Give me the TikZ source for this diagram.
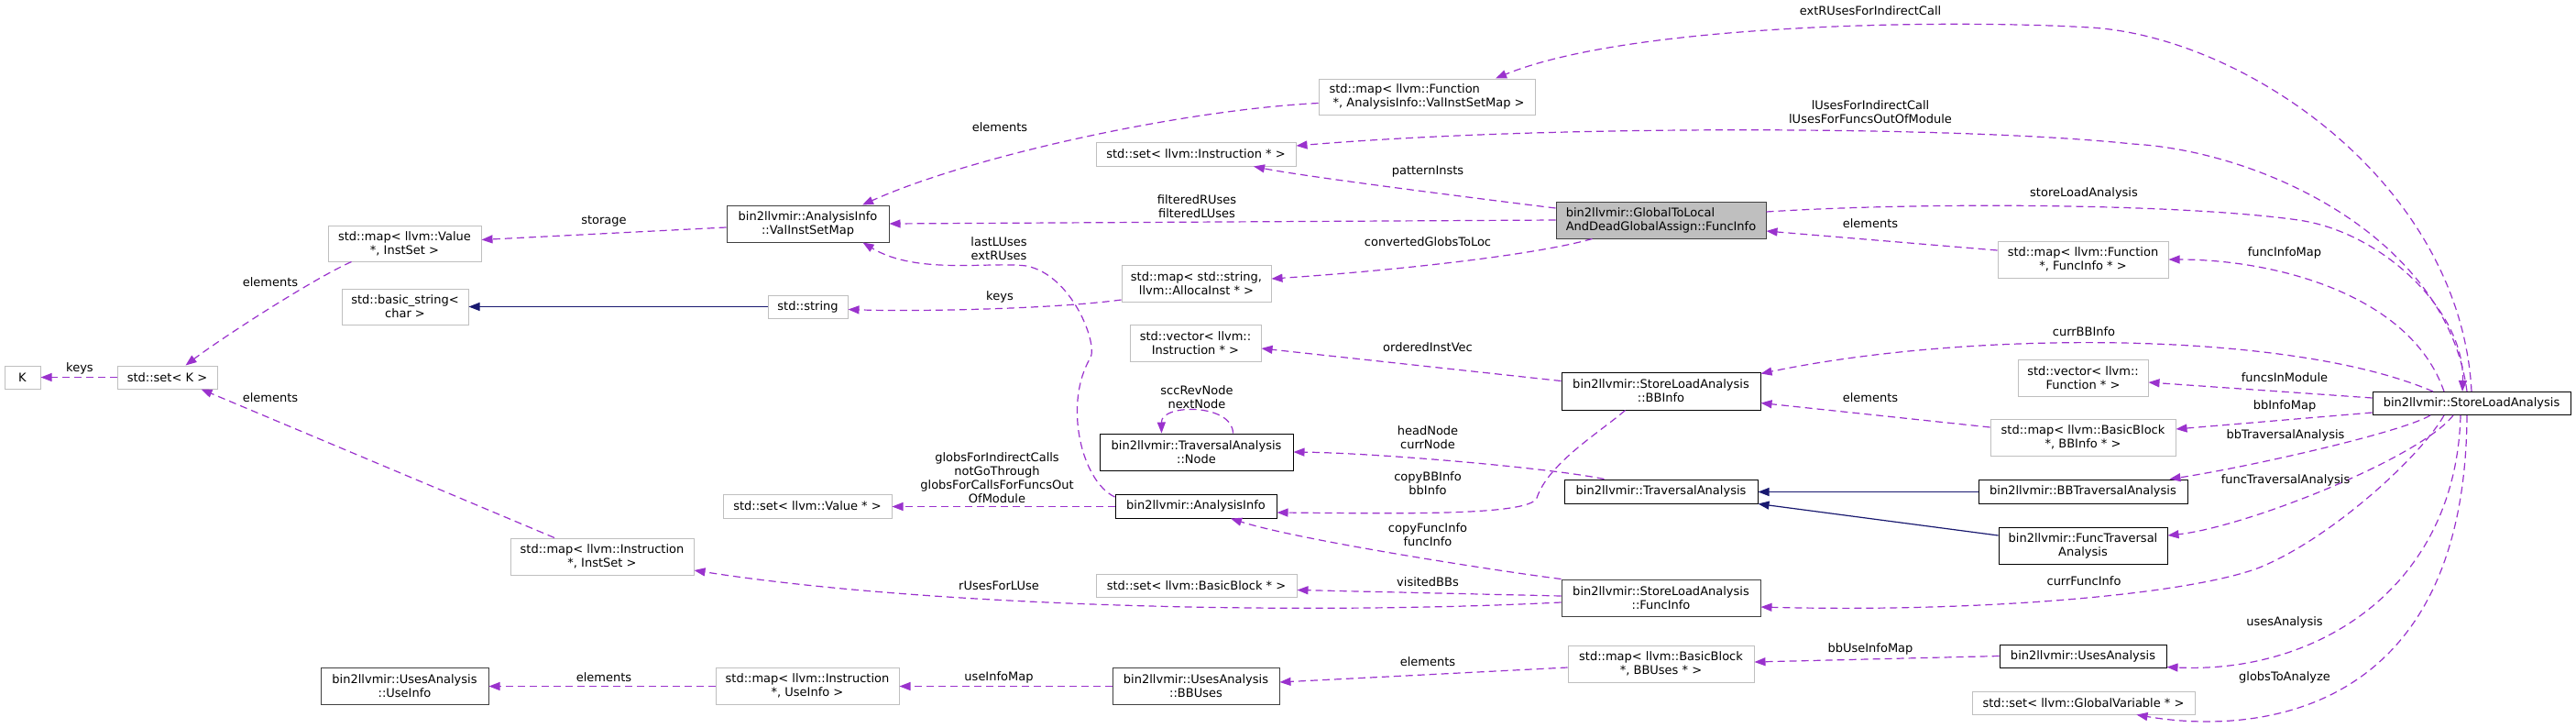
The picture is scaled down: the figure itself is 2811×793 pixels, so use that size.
\documentclass[tikz,border=0pt]{standalone}
\usepackage{fontspec}
\setmainfont{DejaVu Sans}
\usetikzlibrary{arrows.meta,calc}
\newcommand\dxf{\fontsize{13}{15}\selectfont}
\definecolor{usec}{HTML}{9A32CD}
\definecolor{inhc}{HTML}{191970}
\definecolor{extc}{HTML}{BFBFBF}
\definecolor{dkc}{HTML}{404040}
\begin{document}
\begin{tikzpicture}[x=1pt,y=-1pt,
  every node/.style={font=\dxf},
  sz/.style 2 args={minimum width=#1pt,minimum height=#2pt},
  box/.style={draw,rectangle,line width=1pt,inner sep=1pt,align=center,fill=white},
  cls/.style={box,draw=black},
  ext/.style={box,draw=extc},
  dk/.style={box,draw=dkc},
  rootc/.style={box,draw=dkc,fill=extc,align=left},
  lbl/.style={align=center,inner sep=0pt},
  use/.style={draw=usec,line width=1.2pt,dash pattern=on 8pt off 5pt,-{Triangle[length=12pt,width=9pt]}},
  inh/.style={draw=inhc,line width=1.2pt,-{Triangle[length=12pt,width=9pt]}}]
\fill[white] (0,0) rectangle (2811,793);
\useasboundingbox (0,0) rectangle (2811,793);

% nodes
\node[ext,sz={39}{25}] (K) at (24.5,411.5) {K};
\node[ext,sz={109}{25}] (setK) at (182.5,411.5) {std::set< K >};
\node[ext,sz={167}{39}] (mapVal) at (441.5,265.5) {std::map< llvm::Value\\*, InstSet >};
\node[ext,sz={138}{39}] (bstr) at (442,334.5) {std::basic\_string<\\char >};
\node[ext,sz={200}{40}] (mapInstIS) at (657,607) {std::map< llvm::Instruction\\*, InstSet >};
\node[dk,sz={183}{40}] (useInfo) at (441.5,748) {bin2llvmir::UsesAnalysis\\::UseInfo};
\node[dk,sz={177}{40}] (visMap) at (881.5,244) {bin2llvmir::AnalysisInfo\\::ValInstSetMap};
\node[ext,sz={87}{25}] (str) at (881.5,334.5) {std::string};
\node[ext,sz={184}{26}] (setVal) at (881,552) {std::set< llvm::Value * >};
\node[ext,sz={200}{40}] (mapInstUI) at (881,748) {std::map< llvm::Instruction\\*, UseInfo >};
\node[ext,align=left,sz={236}{39}] (mapFnVIS) at (1557,105.5) {std::map< llvm::Function\\~*, AnalysisInfo::ValInstSetMap >};
\node[ext,sz={218}{26}] (setInst) at (1305,168) {std::set< llvm::Instruction * >};
\node[ext,sz={163}{40}] (mapStrAI) at (1305.5,309) {std::map< std::string,\\llvm::AllocaInst * >};
\node[ext,sz={143}{40}] (vecInst) at (1304.5,374) {std::vector< llvm::\\Instruction * >};
\node[cls,sz={211}{40}] (tnode) at (1305.5,493) {bin2llvmir::TraversalAnalysis\\::Node};
\node[cls,sz={176}{26}] (ai) at (1305,552) {bin2llvmir::AnalysisInfo};
\node[ext,sz={219}{25}] (setBB) at (1305.5,638.5) {std::set< llvm::BasicBlock * >};
\node[dk,sz={182}{40}] (bbUses) at (1305,748) {bin2llvmir::UsesAnalysis\\::BBUses};
\node[rootc,sz={229}{40}] (root) at (1812.5,240) {bin2llvmir::GlobalToLocal\\AndDeadGlobalAssign::FuncInfo};
\node[cls,sz={217}{41}] (bbInfo) at (1812.5,426.5) {bin2llvmir::StoreLoadAnalysis\\::BBInfo};
\node[cls,sz={211}{26}] (ta) at (1812.5,536) {bin2llvmir::TraversalAnalysis};
\node[dk,sz={217}{40}] (slFI) at (1812.5,652) {bin2llvmir::StoreLoadAnalysis\\::FuncInfo};
\node[ext,sz={203}{40}] (mapBBUses) at (1812.5,724) {std::map< llvm::BasicBlock\\*, BBUses * >};
\node[ext,sz={186}{40}] (mapFnFI) at (2273,283) {std::map< llvm::Function\\*, FuncInfo * >};
\node[ext,sz={142}{40}] (vecFn) at (2273,412) {std::vector< llvm::\\Function * >};
\node[ext,sz={202}{40}] (mapBBI) at (2273,477) {std::map< llvm::BasicBlock\\*, BBInfo * >};
\node[cls,sz={228}{26}] (bbTA) at (2273,536) {bin2llvmir::BBTraversalAnalysis};
\node[cls,sz={184}{40}] (fnTA) at (2273,595) {bin2llvmir::FuncTraversal\\Analysis};
\node[cls,sz={182}{25}] (ua) at (2273,715.5) {bin2llvmir::UsesAnalysis};
\node[ext,sz={243}{25}] (setGV) at (2273.5,766.5) {std::set< llvm::GlobalVariable * >};
\node[cls,sz={216}{25}] (sla) at (2697,440) {bin2llvmir::StoreLoadAnalysis};

% edges
\draw[use] (setK.west) -- (K.east);
\draw[use] ($(mapVal.south)+(-58,0)$) .. controls (340,305) and (240,370) .. ($(setK.north)+(20,0)$);
\draw[use] ($(mapInstIS.north)+(-52,0)$) -- ($(setK.south)+(37,0)$);
\draw[use] ($(visMap.west)+(0,4)$) -- ($(mapVal.east)+(0,-4)$);
\draw[inh] (str.west) -- (bstr.east);
\draw[use] ($(mapFnVIS.west)+(0,7)$) .. controls (1290,120) and (1060,170) .. ($(visMap.north)+(59.5,0)$);
\draw[use] (root.west) -- (visMap.east);
\draw[use] ($(root.west)+(0,-13)$) .. controls (1600,215) and (1420,192) .. ($(setInst.south)+(63,0)$);
\draw[use] ($(root.south)+(-75,0)$) .. controls (1660,282) and (1480,298) .. ($(mapStrAI.east)+(0,-5)$);
\draw[use] ($(ai.west)+(0,-10)$) .. controls (1180,525) and (1160,440) .. (1190,390) .. controls (1198,375) and (1170,300) .. (1120,290) .. controls (1080,285) and (1000,300) .. ($(visMap.south)+(60,0)$);
\draw[use] ($(mapStrAI.west)+(0,18)$) .. controls (1150,337) and (1000,340) .. ($(str.east)+(0,3)$);
\draw[use] ($(bbInfo.west)+(0,-11)$) -- ($(vecInst.east)+(0,6)$);
\draw[use] ($(tnode.north)+(40,0)$) .. controls (1345,440) and (1267,440) .. ($(tnode.north)+(-38,0)$);
\draw[use] ($(ai.west)+(0,0.5)$) -- ($(setVal.east)+(0,0.5)$);
\draw[use] ($(ta.north)+(-62,0)$) .. controls (1690,510) and (1500,494) .. (tnode.east);
\draw[use] ($(bbInfo.south)+(-39,0)$) .. controls (1745,472) and (1690,505) .. (1677,543) .. controls (1670,563) and (1520,560) .. ($(ai.east)+(0,7)$);
\draw[use] (slFI.north west) .. controls (1650,625) and (1420,590) .. ($(ai.south)+(38,0)$);
\draw[use] ($(slFI.west)+(0,-2)$) -- ($(setBB.east)+(0,5)$);
\draw[use] ($(slFI.west)+(0,5)$) .. controls (1400,672) and (1000,660) .. ($(mapInstIS.east)+(0,15)$);
\draw[use] ($(sla.south)+(-30,0)$) .. controls (2640,500) and (2540,590) .. (2463,620) .. controls (2380,650) and (2150,668) .. ($(slFI.east)+(0,10)$);
\draw[use] ($(sla.north)+(-42,0)$) .. controls (2500,360) and (2150,360) .. ($(bbInfo.north east)+(0,2)$);
\draw[use] ($(sla.west)+(0,-6)$) -- ($(vecFn.east)+(0,5)$);
\draw[use] ($(sla.west)+(0,10)$) -- ($(mapBBI.east)+(0,-9)$);
\draw[use] ($(sla.south)+(-45,0)$) .. controls (2620,472) and (2450,510) .. ($(bbTA.north east)+(-20,0)$);
\draw[use] ($(sla.south)+(-20,0)$) .. controls (2640,500) and (2450,575) .. ($(fnTA.east)+(0,-11)$);
\draw[use] ($(sla.south)+(-12,0)$) .. controls (2680,640) and (2530,735) .. ($(ua.south east)+(0,-1)$);
\draw[use] ($(sla.south)+(-5,0)$) .. controls (2690,790) and (2450,800) .. ($(setGV.south)+(58,0)$);
\draw[use] ($(sla.north)+(-30,0)$) .. controls (2630,320) and (2480,283) .. (mapFnFI.east);
\draw[use] ($(root.east)+(0,-9)$) .. controls (2100,220) and (2380,222) .. (2508,240) .. controls (2600,253) and (2690,340) .. ($(sla.north)+(-10,0)$);
\draw[use] ($(sla.north)+(-5,0)$) .. controls (2670,260) and (2470,165) .. (2327,157) .. controls (2150,138) and (1700,135) .. ($(setInst.east)+(0,-9)$);
\draw[use] (sla.north) .. controls (2685,200) and (2450,40) .. (2281,30) .. controls (2130,21) and (1780,25) .. ($(mapFnVIS.north)+(75,0)$);
\draw[use] ($(mapFnFI.west)+(0,-10)$) -- ($(root.east)+(0,12)$);
\draw[use] ($(mapBBI.west)+(0,-11)$) -- ($(bbInfo.east)+(0,13)$);
\draw[use] ($(mapBBUses.west)+(0,4)$) -- ($(bbUses.east)+(0,-4)$);
\draw[use] (ua.west) -- ($(mapBBUses.east)+(0,-2)$);
\draw[use] ($(bbUses.west)+(0,0.5)$) -- ($(mapInstUI.east)+(0,0.5)$);
\draw[use] ($(mapInstUI.west)+(0,0.5)$) -- ($(useInfo.east)+(0,0.5)$);
\draw[inh] ($(bbTA.west)+(0,0.5)$) -- ($(ta.east)+(0,0.5)$);
\draw[inh] ($(fnTA.west)+(0,-11)$) -- (ta.south east);

% labels
\node[lbl] (l1) at (87,402) {keys};
\node[lbl] (l2) at (295,308) {elements};
\node[lbl] (l3) at (295,434) {elements};
\node[lbl] (l4) at (659,241) {storage};
\node[lbl] (l5) at (1091,139) {elements};
\node[lbl] (l6) at (1306,225) {filteredRUses\\filteredLUses};
\node[lbl] (l7) at (1090,271.5) {lastLUses\\extRUses};
\node[lbl] (l8) at (1091,324) {keys};
\node[lbl] (l9) at (1558,187) {patternInsts};
\node[lbl] (l10) at (1558,264) {convertedGlobsToLoc};
\node[lbl] (l11) at (1558,379) {orderedInstVec};
\node[lbl] (l12) at (1306,433) {sccRevNode\\nextNode};
\node[lbl] (l13) at (1088,521) {globsForIndirectCalls\\notGoThrough\\globsForCallsForFuncsOut\\OfModule};
\node[lbl] (l14) at (1558,477) {headNode\\currNode};
\node[lbl] (l15) at (1558,527.5) {copyBBInfo\\bbInfo};
\node[lbl] (l16) at (1558,583) {copyFuncInfo\\funcInfo};
\node[lbl] (l17) at (1558,635) {visitedBBs};
\node[lbl] (l18) at (1090,639) {rUsesForLUse};
\node[lbl] (l19) at (1558,722) {elements};
\node[lbl] (l20) at (1090,739) {useInfoMap};
\node[lbl] (l21) at (659,739) {elements};
\node[lbl] (l22) at (2041,708) {bbUseInfoMap};
\node[lbl] (l23) at (2041,244) {elements};
\node[lbl] (l24) at (2041,434) {elements};
\node[lbl] (l25) at (2041,12) {extRUsesForIndirectCall};
\node[lbl] (l26) at (2041,122.5) {lUsesForIndirectCall\\lUsesForFuncsOutOfModule};
\node[lbl] (l27) at (2274,211) {storeLoadAnalysis};
\node[lbl] (l28) at (2493,276) {funcInfoMap};
\node[lbl] (l29) at (2274,362) {currBBInfo};
\node[lbl] (l30) at (2493,412) {funcsInModule};
\node[lbl] (l31) at (2493,443) {bbInfoMap};
\node[lbl] (l32) at (2494,475) {bbTraversalAnalysis};
\node[lbl] (l33) at (2494,524) {funcTraversalAnalysis};
\node[lbl] (l34) at (2274,634) {currFuncInfo};
\node[lbl] (l35) at (2493,679) {usesAnalysis};
\node[lbl] (l36) at (2493,739) {globsToAnalyze};
\end{tikzpicture}
\end{document}
